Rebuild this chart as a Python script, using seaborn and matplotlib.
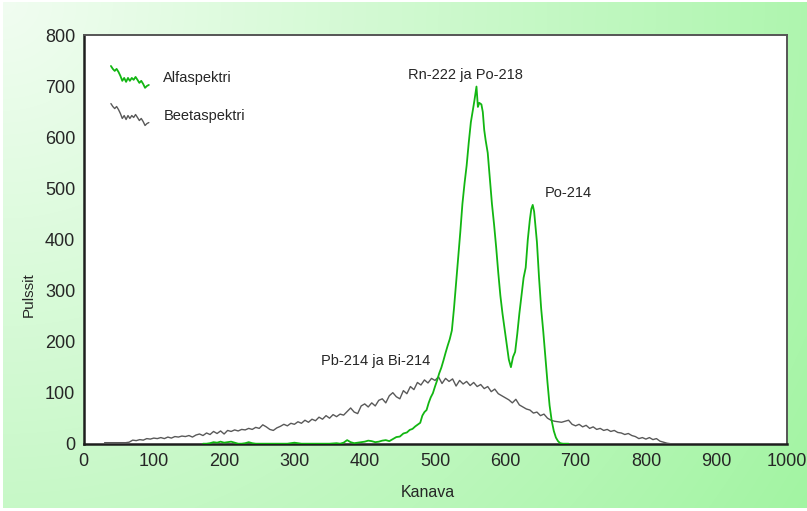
import numpy as np
import pandas as pd
import matplotlib
matplotlib.use("Agg")
import matplotlib.pyplot as plt
import seaborn as sns
from matplotlib.legend_handler import HandlerLine2D
from matplotlib.lines import Line2D

# ---- spectrum data ----
alpha_channel = [170, 175, 180, 185, 190, 195, 200, 205, 210, 215, 220, 225, 230, 235,
                 240, 245, 250, 260, 270, 280, 290, 300, 305, 310, 320, 330, 340, 350,
                 360, 365, 370, 375, 380, 385, 390, 395, 400, 405, 410, 415, 420, 425,
                 430, 435, 440, 445, 450, 455, 460, 464, 468, 472, 476, 479, 482, 485,
                 488, 491, 494, 497, 500, 503, 506, 509, 512, 515, 518, 521, 524, 527,
                 530, 533, 536, 539, 542, 545, 548, 551, 554, 556, 559, 561, 563, 566,
                 568, 570, 572, 575, 578, 581, 584, 587, 590, 593, 596, 599, 602, 605,
                 608, 611, 614, 617, 620, 623, 626, 629, 632, 635, 637, 639, 641, 643,
                 645, 648, 651, 654, 657, 660, 663, 666, 669, 672, 675, 678, 682, 690]
alpha_counts = [0, 0, 1, 3, 2, 4, 2, 3, 4, 2, 0, 0, 1, 3,
                1, 0, 0, 0, 0, 0, 0, 2, 1, 0, 0, 0, 0, 0,
                1, 0, 2, 7, 3, 1, 2, 3, 4, 6, 5, 3, 4, 6,
                7, 5, 9, 13, 14, 20, 22, 27, 29, 34, 38, 41, 55, 62,
                66, 80, 91, 99, 112, 124, 138, 149, 163, 178, 192, 205, 222, 265,
                315, 365, 415, 470, 510, 545, 590, 630, 655, 672, 700, 660, 668, 665,
                650, 615, 595, 570, 520, 470, 430, 385, 335, 290, 255, 225, 195, 165,
                150, 170, 180, 215, 255, 290, 325, 345, 400, 440, 460, 468, 455, 425,
                395, 325, 265, 220, 170, 120, 75, 45, 25, 12, 5, 1, 0, 0]

beta_channel = list(range(30, 840, 5))
beta_counts = [2, 2, 2, 2, 2, 2, 2, 3,
               7, 6, 8, 7, 10, 9, 11, 10, 12, 10,
               13, 11, 14, 13, 15, 14, 16, 13, 17, 19,
               16, 21, 18, 24, 20, 25, 19, 26, 24, 27,
               25, 28, 27, 30, 28, 32, 30, 37, 33, 28,
               26, 31, 34, 38, 35, 40, 38, 43, 40, 46,
               42, 48, 45, 52, 48, 55, 50, 57, 53, 58,
               56, 63, 70, 62, 59, 74, 78, 72, 80, 74,
               85, 88, 80, 94, 100, 92, 88, 104, 98, 112,
               106, 120, 115, 125, 119, 128, 124, 131, 118, 128,
               122, 127, 113, 124, 117, 122, 114, 120, 112, 116,
               108, 112, 102, 107, 98, 94, 90, 86, 80, 87,
               76, 72, 68, 66, 60, 62, 55, 58, 50, 46,
               44, 43, 42, 44, 46, 38, 35, 38, 33, 36,
               30, 33, 28, 30, 26, 28, 24, 26, 22, 21,
               18, 20, 16, 14, 10, 12, 9, 12, 8, 10,
               5, 3, 1, 0]

series_names = ["Alfaspektri", "Beetaspektri"]
x_ticks = [0, 100, 200, 300, 400, 500, 600, 700, 800, 900, 1000]
y_ticks = [0, 100, 200, 300, 400, 500, 600, 700, 800]
peak_labels = ["Rn-222 ja Po-218", "Po-214", "Pb-214 ja Bi-214"]
peak_label_pos = [(544, 723), (689, 491), (415, 162)]

GREEN = "#12b612"
GREY = "#595959"
TEXT = "#262626"

sns.set_theme(style="white")
plt.rcParams["font.family"] = ["Liberation Sans", "DejaVu Sans"]

fig = plt.figure(figsize=(8.07, 5.11), dpi=100)
fig.patch.set_facecolor("white")

# soft green backdrop, lighter towards the upper-left corner
bg = fig.add_axes([3 / 807, 3 / 511, 804 / 807, 506 / 511], zorder=-10)
gx, gy = np.meshgrid(np.linspace(0, 1, 400), np.linspace(0, 1, 260))
t = np.clip(np.sqrt((0.82 * gx) ** 2 + (0.52 * gy) ** 2), 0, 1)
c0 = np.array([0xf1, 0xfd, 0xf1]) / 255
c1 = np.array([0xa0, 0xf4, 0xa0]) / 255
img = c0[None, None, :] * (1 - t[..., None]) + c1[None, None, :] * t[..., None]
bg.imshow(img, aspect="auto", interpolation="bilinear")
bg.set_axis_off()

ax = fig.add_axes([83.5 / 807, 1 - 443.7 / 511, 703 / 807, 408.2 / 511])
ax.set_facecolor("white")

alpha_df = pd.DataFrame({"Kanava": alpha_channel, "Pulssit": alpha_counts})
beta_df = pd.DataFrame({"Kanava": beta_channel, "Pulssit": beta_counts})

sns.lineplot(data=beta_df, x="Kanava", y="Pulssit", ax=ax, color=GREY,
             linewidth=1.0, label=series_names[1], zorder=3)
sns.lineplot(data=alpha_df, x="Kanava", y="Pulssit", ax=ax, color=GREEN,
             linewidth=1.3, label=series_names[0], zorder=4)

ax.set_xlim(0, 1000)
ax.set_ylim(0, 800)
ax.set_xticks(x_ticks)
ax.set_yticks(y_ticks)
ax.tick_params(axis="both", direction="in", length=8, width=1.2, color=TEXT,
               labelsize=13, labelcolor=TEXT)
ax.tick_params(axis="x", pad=7)
ax.tick_params(axis="y", pad=6)
ax.set_xlabel("Kanava", fontsize=11.5, color=TEXT)
ax.set_ylabel("Pulssit", fontsize=11, color=TEXT)
ax.xaxis.set_label_coords(0.49, -0.10)
ax.yaxis.set_label_coords(-0.068, 0.364)

for side in ("left", "bottom"):
    ax.spines[side].set_color("#1e1e1e")
    ax.spines[side].set_linewidth(1.8)
for side in ("top", "right"):
    ax.spines[side].set_color("#555555")
    ax.spines[side].set_linewidth(1.4)

for text, (px, py) in zip(peak_labels, peak_label_pos):
    ax.text(px, py, text, ha="center", va="center", fontsize=10.5, color=TEXT)


class JaggedHandler(HandlerLine2D):
    """Legend sample drawn as a short noisy trace."""
    trace = [0.75, 0.55, 0.41, 0.55, 0.34, 0.07, -0.27, -0.07, -0.34, -0.07, -0.27,
             -0.07, -0.2, 0.0, -0.2, -0.41, -0.27, -0.48, -0.75, -0.62, -0.55]

    def create_artists(self, legend, orig_handle, xdescent, ydescent, width, height,
                       fontsize, trans):
        n = len(self.trace)
        xs = np.linspace(0, width, n) - xdescent
        ys = height / 2 - ydescent + np.array(self.trace) * fontsize
        line = Line2D(xs, ys, color=orig_handle.get_color(),
                      linewidth=orig_handle.get_linewidth())
        line.set_transform(trans)
        return [line]


handles, labels = ax.get_legend_handles_labels()
order = [labels.index(n) for n in series_names]
handles = [handles[i] for i in order]
labels = [labels[i] for i in order]
ax.legend(handles, labels, loc="upper left", bbox_to_anchor=(0.039, 0.913),
          frameon=False, fontsize=10.5, handlelength=2.6, handletextpad=1.0,
          labelspacing=1.62, borderpad=0, borderaxespad=0,
          handler_map={h: JaggedHandler() for h in handles},
          labelcolor=TEXT)

fig.savefig("out.png", dpi=100)
